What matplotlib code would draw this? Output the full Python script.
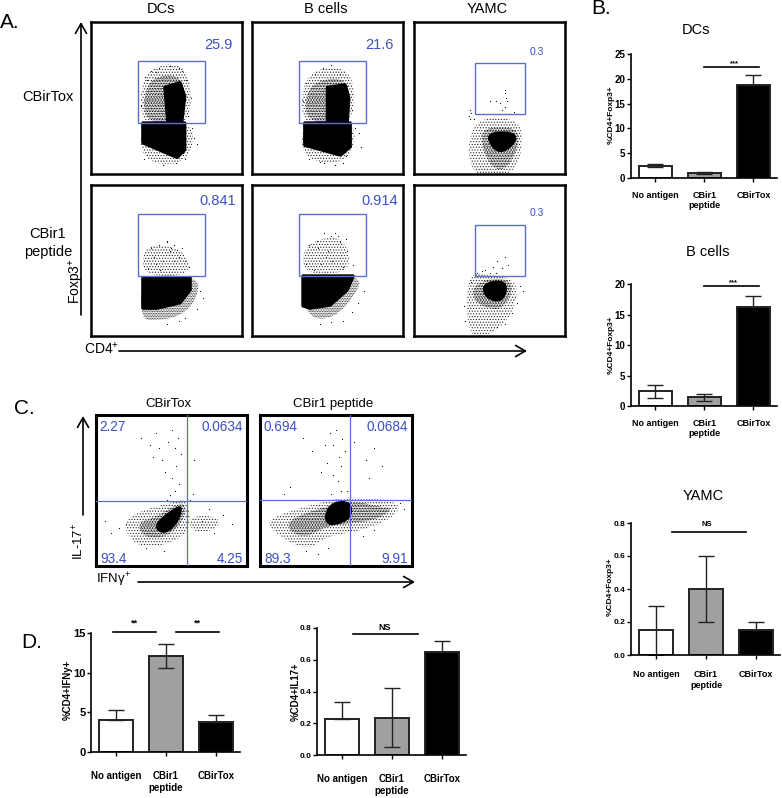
import matplotlib
matplotlib.use('Agg')
import matplotlib.pyplot as plt
from matplotlib.patches import Polygon, Rectangle, PathPatch
from matplotlib.path import Path

plt.rcParams['font.family'] = ['Liberation Sans', 'DejaVu Sans']
plt.rcParams['mathtext.default'] = 'regular'
plt.rcParams['hatch.linewidth'] = 0.5

W, H = 782, 798
BLUE = '#3b50c4'
GATE = '#5a6fd0'

# bar data
groups = ['No antigen', 'CBir1\npeptide', 'CBirTox']
bar_colors = ['white', '#a0a0a0', 'black']

dc_vals = [2.5, 1.0, 18.7]
dc_low = [0.3, 0.15, 0]
dc_high = [0.3, 0.15, 2.0]

bcell_vals = [2.4, 1.4, 16.2]
bcell_low = [1.1, 0.5, 0]
bcell_high = [1.1, 0.5, 1.9]

yamc_vals = [0.15, 0.4, 0.15]
yamc_low = [0.15, 0.2, 0]
yamc_high = [0.15, 0.2, 0.05]

ifn_vals = [4.0, 12.1, 3.8]
ifn_low = [0, 1.5, 0]
ifn_high = [1.3, 1.5, 0.9]

il17_vals = [0.225, 0.235, 0.65]
il17_low = [0, 0.185, 0]
il17_high = [0.11, 0.185, 0.07]

# flow cytometry density outlines on a 0-100 scale
core_a11 = [[(34.4, 33.5), (62, 33.5), (62, 16), (57, 11), (34.4, 20.5)],
            [(49, 57), (59, 60), (62, 51), (60, 33.5), (51, 33.5)]]
mid_a11 = [[(36, 60), (50, 66), (62, 62), (62, 33.5), (34.4, 33.5)]]
sparse_a11 = [[(33, 35), (67, 34), (68, 18), (58, 5), (33, 9)],
              [(33, 64), (50, 74), (66, 68), (66, 30), (33, 30)]]

core_a12 = [[(35, 33.5), (65, 33.5), (65, 18), (58.6, 12.5), (35, 19)],
            [(50, 57), (61.6, 58.5), (64, 50), (63, 33.5), (50, 33.5)]]
mid_a12 = [[(36, 57), (52, 64), (65, 60), (65, 33.5), (35, 33.5)]]
sparse_a12 = [[(33, 35), (68, 35), (68, 17), (58, 6), (33, 10)],
              [(33, 62), (50, 72), (68, 66), (67, 30), (33, 30)]]

core_a13 = [[(48, 27), (65.5, 27.6), (68, 22), (59, 14), (52, 17)]]
mid_a13 = [[(46, 31), (68, 31), (70, 20), (61.6, 3), (52, 3), (44, 20)]]
sparse_a13 = [[(37, 37), (71, 37), (72, 14), (63.5, -2), (36, -2)]]

core_a21 = [[(34.4, 38.4), (65.6, 38.4), (65.6, 30.5), (59, 22), (43.7, 18.5), (34.4, 18.5)]]
mid_a21 = [[(33, 40), (71, 40), (71, 26), (60, 13), (41, 10), (33, 12)]]
sparse_a21 = [[(34.4, 57), (45.7, 61.6), (64, 55), (65.6, 39.7), (34.4, 39.7)]]

core_a22 = [[(33.8, 39.7), (66.9, 39.7), (63, 30.5), (51.7, 20.5), (38.4, 18.5), (33.8, 20)]]
mid_a22 = [[(32, 41), (73, 40), (69, 28), (54, 11), (36, 12)]]
sparse_a22 = [[(33.8, 59.6), (53.6, 67), (63.6, 59.6), (65, 41.7), (33.8, 40.4)]]

core_a23 = [[(45, 33.8), (57, 37), (62, 32.5), (58, 22.5), (48, 25)]]
mid_a23 = [[(40.4, 35), (57, 39), (67, 33.8), (59, 17), (45.7, 19), (38.4, 25.8)]]
sparse_a23 = [[(35, 41), (48, 41), (70, 37), (65, 13), (50, 0), (35, 0)]]

core_c1 = [[(40.4, 29), (53.6, 39), (57, 38.4), (53.6, 28.5), (46.4, 21.9), (40.4, 23.8)]]
mid_c1 = [[(27, 29), (40.4, 32.5), (51.7, 40.4), (59.6, 41.7), (58.3, 30.5), (47, 19), (31.8, 18.5)]]
sparse_c1 = [[(16, 32), (51.7, 43), (61, 44), (63, 23), (45, 13), (25, 13)],
             [(61.6, 33.8), (82.8, 32.5), (80, 23.8), (63, 21.9)]]

core_c2 = [[(43.4, 35.8), (48.7, 42.4), (59.9, 42.4), (59.9, 31.8), (48.7, 27), (43.4, 29)]]
mid_c2 = [[(17.8, 30.5), (42, 39), (60, 43.7), (79.6, 39), (88, 38.4), (77, 30.5), (60, 28.5), (42, 25.8), (31, 19), (20, 21.9)]]
sparse_c2 = [[(2, 31), (42, 43), (60, 46), (92, 43), (90, 33), (66.4, 23), (44, 20), (31, 10), (12, 20)]]

# stray events
dots_a11_x = [36, 40, 45, 52, 60, 63, 66, 33, 37, 43, 58, 64, 67, 61, 35, 48, 56, 62, 68, 70]
dots_a11_y = [64, 68, 70, 71, 68, 62, 50, 45, 62, 67, 70, 38, 30, 14, 10, 6, 7, 10, 24, 20]
dots_a12_x = [36, 42, 47, 52, 58, 63, 34, 66, 38, 45, 62, 65, 48, 55, 60, 68, 71, 72]
dots_a12_y = [60, 66, 70, 72, 66, 58, 48, 42, 10, 8, 12, 20, 7, 6, 7, 30, 27, 18]
dots_a13_x = [50, 54, 57, 60, 60.5, 61, 61.5, 60, 58, 66, 37, 36.5, 38, 37, 40]
dots_a13_y = [48, 48, 47, 55, 53, 50, 48, 44, 42, 41, 36, 38, 40, 42, 36]
dots_a21_x = [40, 45, 50, 55, 60, 48, 53, 58, 43, 52, 62, 57, 46, 38, 65, 50, 55, 42, 72, 74, 70, 62, 50, 58]
dots_a21_y = [58, 60, 63, 60, 58, 50, 58, 52, 48, 56, 50, 57, 44, 45, 46, 62, 50, 52, 30, 25, 18, 12, 8, 10]
dots_a22_x = [38, 43, 48, 52, 58, 63, 46, 55, 60, 41, 50, 67, 53, 36, 57, 49, 44, 62, 74, 70, 66, 52, 60, 45]
dots_a22_y = [60, 63, 68, 66, 62, 56, 48, 68, 46, 44, 56, 47, 50, 48, 66, 52, 58, 64, 30, 22, 16, 9, 10, 8]
dots_a23_x = [42, 47, 52, 55, 58, 60, 50, 62, 54, 45, 70, 72, 65, 68, 55, 60, 33, 34, 38]
dots_a23_y = [42, 44, 46, 50, 45, 52, 42, 47, 42, 43, 33, 30, 15, 22, 6, 8, 20, 10, 36]
dots_c1_x = [30, 36, 40, 44, 48, 50, 52, 54, 56, 46, 50, 53, 42, 60, 65, 15, 38, 52, 49, 47, 55, 70, 78, 84, 90, 75, 6, 10, 20, 33, 45, 62, 64]
dots_c1_y = [85, 80, 88, 70, 82, 90, 78, 85, 74, 62, 58, 66, 78, 78, 70, 25, 72, 50, 47, 44, 54, 30, 22, 34, 28, 38, 30, 22, 28, 12, 10, 44, 48]
dots_c2_x = [28, 34, 40, 44, 46, 48, 50, 52, 54, 56, 48, 51, 53, 43, 62, 70, 75, 20, 16, 47, 50, 53, 72, 80, 57, 30, 38, 45, 95, 92, 68, 75]
dots_c2_y = [85, 76, 62, 68, 88, 80, 90, 72, 84, 76, 60, 56, 66, 80, 82, 70, 78, 52, 48, 48, 44, 50, 58, 66, 50, 10, 8, 12, 38, 42, 20, 24]

# gates: left, bottom, width, height
gate_top = (31, 33.5, 44.5, 41)
gate_top3 = (40.4, 39.5, 33, 33.5)
gate_bot = (31, 39.5, 44.5, 41)
gate_bot3 = (40.5, 39.5, 33, 34)


def px_axes(fig, left, top, right, bottom):
    return fig.add_axes([left / W, 1 - bottom / H, (right - left) / W, (bottom - top) / H])


# closed quadratic curve through the edge midpoints of an outline
def blob(pts, **kw):
    n = len(pts)
    mids = [((pts[i][0] + pts[(i + 1) % n][0]) / 2, (pts[i][1] + pts[(i + 1) % n][1]) / 2) for i in range(n)]
    verts = [mids[-1]]
    codes = [Path.MOVETO]
    for i in range(n):
        verts += [pts[i], mids[i]]
        codes += [Path.CURVE3, Path.CURVE3]
    return PathPatch(Path(verts, codes), **kw)


def draw_cloud(ax, core, mid, sparse, dx, dy, round_core):
    for pts in sparse:
        ax.add_patch(blob(pts, fill=False, edgecolor='#222222', hatch='.' * 6, linewidth=0))
    for pts in mid:
        ax.add_patch(blob(pts, fill=False, edgecolor='black', hatch='.' * 10, linewidth=0))
    for pts in core:
        if round_core:
            ax.add_patch(blob(pts, facecolor='black', edgecolor='black', linewidth=1.5))
        else:
            ax.add_patch(Polygon(pts, facecolor='black', edgecolor='black', linewidth=2.5, joinstyle='round'))
    ax.scatter(dx, dy, s=0.7, color='black', linewidths=0, zorder=3)


def facs_panel(fig, box, core, mid, sparse, dx, dy, gate=None, lw=1.8, round_core=False):
    ax = px_axes(fig, *box)
    ax.set_xlim(0, 100)
    ax.set_ylim(0, 100)
    ax.set_xticks([])
    ax.set_yticks([])
    for s in ax.spines.values():
        s.set_linewidth(lw)
    draw_cloud(ax, core, mid, sparse, dx, dy, round_core)
    if gate is not None:
        ax.add_patch(Rectangle(gate[:2], gate[2], gate[3], fill=False, edgecolor=GATE, linewidth=1, zorder=4))
    return ax


def bar_panel(fig, box, vals, low, high, ymax, yticks, tick_fs, group_fs, pad=6):
    ax = px_axes(fig, *box)
    ax.bar(range(3), vals, width=0.67, color=bar_colors, edgecolor='#222222', linewidth=1.4)
    ax.errorbar(range(3), vals, yerr=[low, high], fmt='none', ecolor='#222222', elinewidth=1, capsize=5.8, capthick=1)
    ax.set_xlim(-0.5, 2.48)
    ax.set_ylim(0, ymax)
    ax.set_yticks(yticks)
    ax.set_xticks(range(3))
    ax.set_xticklabels(groups, fontsize=group_fs, fontweight='bold')
    ax.tick_params(axis='x', length=3, width=1, pad=pad)
    ax.tick_params(axis='y', length=3, width=1, pad=1, labelsize=tick_fs)
    for t in ax.get_yticklabels():
        t.set_fontweight('bold')
    ax.spines['top'].set_visible(False)
    ax.spines['right'].set_visible(False)
    ax.spines['left'].set_linewidth(1.2)
    ax.spines['bottom'].set_linewidth(1.2)
    ax.patch.set_alpha(0)
    return ax


fig = plt.figure(figsize=(W / 100, H / 100), dpi=100)

# A: flow panels
facs_panel(fig, (91, 22, 242, 174), core_a11, mid_a11, sparse_a11, dots_a11_x, dots_a11_y, gate_top)
facs_panel(fig, (252, 22, 403, 174), core_a12, mid_a12, sparse_a12, dots_a12_x, dots_a12_y, gate_top)
facs_panel(fig, (414, 22, 565, 174), core_a13, mid_a13, sparse_a13, dots_a13_x, dots_a13_y, gate_top3, round_core=True)
facs_panel(fig, (91, 185, 242, 336), core_a21, mid_a21, sparse_a21, dots_a21_x, dots_a21_y, gate_bot)
facs_panel(fig, (252, 185, 403, 336), core_a22, mid_a22, sparse_a22, dots_a22_x, dots_a22_y, gate_bot)
facs_panel(fig, (414, 185, 565, 336), core_a23, mid_a23, sparse_a23, dots_a23_x, dots_a23_y, gate_bot3, round_core=True)

# C: quadrant panels
c1 = facs_panel(fig, (96, 415, 247, 566), core_c1, mid_c1, sparse_c1, dots_c1_x, dots_c1_y, lw=2.2, round_core=True)
c1.axvline(60.3, color=GATE, lw=0.9, zorder=4)
c1.axhline(43, color=GATE, lw=0.9, zorder=4)
c2 = facs_panel(fig, (260, 415, 412, 566), core_c2, mid_c2, sparse_c2, dots_c2_x, dots_c2_y, lw=2.2, round_core=True)
c2.axvline(59.2, color=GATE, lw=0.9, zorder=4)
c2.axhline(43.4, color=GATE, lw=0.9, zorder=4)

# B: bar charts
ylab = '%CD4+Foxp3+'
bar_panel(fig, (631, 54, 777, 178), dc_vals, dc_low, dc_high, 25, [0, 5, 10, 15, 20, 25], 7, 6.5)
bar_panel(fig, (631, 284, 777, 406), bcell_vals, bcell_low, bcell_high, 20, [0, 5, 10, 15, 20], 7, 6.5)
a = bar_panel(fig, (631, 523, 780, 655), yamc_vals, yamc_low, yamc_high, 0.8, [0, 0.2, 0.4, 0.6, 0.8], 6, 6.5, pad=8)
a.set_yticklabels(['0.0', '0.2', '0.4', '0.6', '0.8'])

# D: bar charts
bar_panel(fig, (91, 633, 240, 752), ifn_vals, ifn_low, ifn_high, 15, [0, 5, 10, 15], 8, 7, pad=11)
a = bar_panel(fig, (317, 628, 466, 755), il17_vals, il17_low, il17_high, 0.8, [0, 0.2, 0.4, 0.6, 0.8], 6, 7, pad=11)
a.set_yticklabels(['0.0', '0.2', '0.4', '0.6', '0.8'], fontsize=6, fontweight='bold')

# overlay in pixel coordinates for labels, arrows and brackets
ov = fig.add_axes([0, 0, 1, 1], zorder=10)
ov.set_xlim(0, W)
ov.set_ylim(H, 0)
ov.axis('off')


def label(x, y, s, fs=10, **kw):
    kw.setdefault('ha', 'center')
    kw.setdefault('va', 'center')
    ov.text(x, y, s, fontsize=fs, **kw)


def arrow(x0, y0, x1, y1):
    ov.annotate('', xy=(x1, y1), xytext=(x0, y0),
                arrowprops=dict(arrowstyle='->,head_length=0.7,head_width=0.4', lw=1.2, color='black',
                                shrinkA=0, shrinkB=0))


for x, y, s in [(10, 22, 'A.'), (601, 8, 'B.'), (24, 408, 'C.'), (32, 643, 'D.')]:
    label(x, y, s, 15)

for x, s in [(161, 'DCs'), (326, 'B cells'), (487, 'YAMC')]:
    label(x, 9, s, 10.5)
label(48, 97, 'CBirTox', 10.5)
label(48, 243, 'CBir1\npeptide', 10.5, linespacing=1.35)
label(76, 281, 'Foxp3$^{+}$', 10, rotation=90)
label(102, 349, 'CD4$^{+}$', 10)
arrow(81, 315, 81, 22)
arrow(119, 351, 527, 351)

for x, y, s, fs in [(218, 45, '25.9', 10.5), (379, 45, '21.6', 10.5), (537, 52, '0.3', 7.5),
                    (218, 201, '0.841', 10.5), (380, 201, '0.914', 10.5), (537, 213, '0.3', 7.5)]:
    label(x, y, s, fs, color=BLUE)

label(168, 404, 'CBirTox', 9.5)
label(333, 404, 'CBir1 peptide', 9.5)
for x, y, s, ha in [(99, 427, '2.27', 'left'), (243, 427, '0.0634', 'right'), (100, 559, '93.4', 'left'),
                    (243, 559, '4.25', 'right'), (263, 427, '0.694', 'left'), (408, 427, '0.0684', 'right'),
                    (264, 559, '89.3', 'left'), (408, 559, '9.91', 'right')]:
    label(x, y, s, 9.8, color=BLUE, ha=ha)
arrow(83, 515, 83, 416)
arrow(138, 582, 415, 582)
label(79, 541, 'IL-17$^{+}$', 9.5, rotation=90)
label(114, 580, 'IFNγ$^{+}$', 9.5)

label(696, 30, 'DCs', 10.5)
label(708, 252, 'B cells', 10.5)
label(703, 496, 'YAMC', 10.5)

for x, y, s, fs in [(611, 115, ylab, 6), (611, 345, ylab, 6), (610, 587, ylab, 6),
                    (68, 690, '%CD4+IFNy+', 7), (296, 692, '%CD4+IL17+', 7)]:
    label(x, y, s, fs, rotation=90, fontweight='bold')

for x0, x1, y in [(704, 759, 67), (704, 759, 286), (672, 746, 532), (113, 156, 632), (176, 219, 632), (353, 418, 634)]:
    ov.plot([x0, x1], [y, y], color='black', lw=1.2)
for x, y, s, fs in [(734, 64, '***', 5.5), (733, 283, '***', 5.5), (707, 524, 'NS', 5.5),
                    (134, 623, '**', 6.5), (197, 623, '**', 6.5), (385, 628, 'NS', 6.5)]:
    label(x, y, s, fs, fontweight='bold')

fig.savefig('out.png', dpi=100)
